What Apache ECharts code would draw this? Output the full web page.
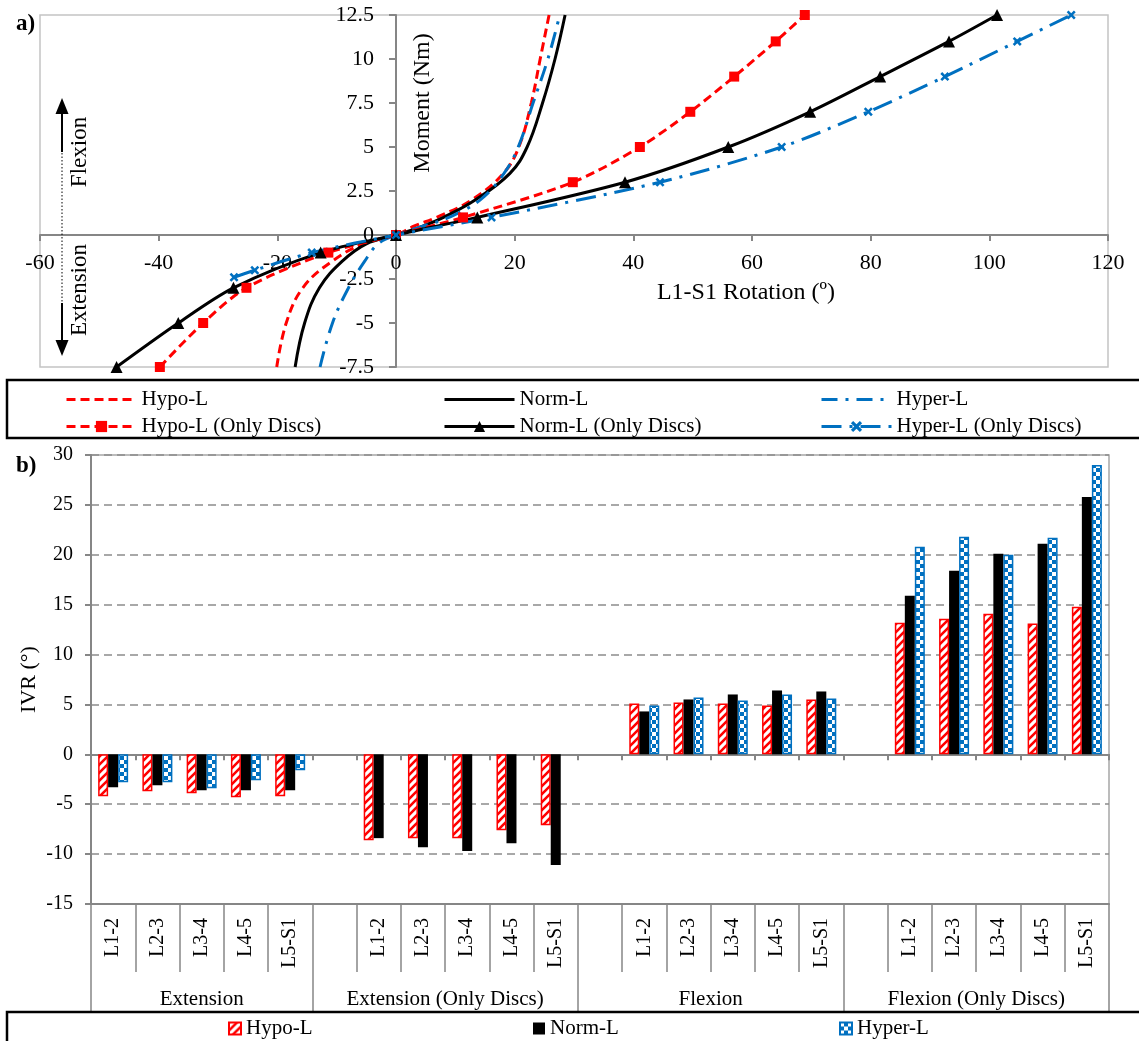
<!DOCTYPE html>
<html>
<head>
<meta charset="utf-8">
<script src="https://cdn.jsdelivr.net/npm/echarts@6/dist/echarts.min.js"></script>
<style>
  html, body { margin: 0; padding: 0; background: #ffffff; }
  #chart { width: 1139px; height: 1041px; }
</style>
</head>
<body>
<div id="chart"></div>
<script>
// ---------- Panel a: moment vs. L1-S1 rotation ----------
const momentFull = [-7.5, -5, -3, -1.5, -0.5, 0, 0.5, 1, 2, 3.5, 5, 7.5, 10, 12.5];
const rotHypo  = [-20.1, -18.5, -15.7, -10.8, -5.5, 0, 3.0, 6.8, 12.8, 18.1, 20.7, 22.8, 24.3, 25.8];
const rotNorm  = [-17.0, -15.4, -12.9, -9.1, -5.0, 0, 4.5, 8.0, 13.4, 19.2, 22.1, 24.7, 26.8, 28.5];
const rotHyper = [-12.8, -10.7, -8.0, -5.3, -3.0, 0, 4.5, 8.9, 14.2, 18.2, 20.6, 23.1, 25.6, 27.6];

const momentDiscs   = [-7.5, -5, -3, -1, 0, 1, 3, 5, 7, 9, 11, 12.5];
const rotHypoDiscs  = [-39.8, -32.5, -25.2, -11.4, 0, 11.3, 29.8, 41.1, 49.6, 57.0, 64.0, 68.9];
const rotNormDiscs  = [-47.1, -36.7, -27.4, -12.7, 0, 13.7, 38.6, 56.0, 69.8, 81.6, 93.2, 101.3];
const momentHyperDiscs = [-2.4, -2.0, -1.0, 0, 1, 3, 5, 7, 9, 11, 12.5];
const rotHyperDiscs    = [-27.3, -23.8, -14.2, 0, 16.1, 44.5, 65.0, 79.6, 92.5, 104.7, 113.8];

// Axis ranges of panel a
const rotMin = -60, rotMax = 120, rotStep = 20;
const momMin = -7.5, momMax = 12.5, momStep = 2.5;

// ---------- Panel b: intervertebral rotation per level ----------
const segments = ['L1-2', 'L2-3', 'L3-4', 'L4-5', 'L5-S1'];
const groups = ['Extension', 'Extension (Only Discs)', 'Flexion', 'Flexion (Only Discs)'];
const hypoIVR = [
  [-4.2, -3.7, -3.9, -4.3, -4.2],
  [-8.6, -8.4, -8.4, -7.6, -7.1],
  [5.1, 5.2, 5.1, 4.9, 5.5],
  [13.2, 13.6, 14.1, 13.1, 14.8]
];
const normIVR = [
  [-3.3, -3.1, -3.6, -3.6, -3.6],
  [-8.4, -9.3, -9.7, -8.9, -11.1],
  [4.3, 5.5, 6.0, 6.4, 6.3],
  [15.9, 18.4, 20.1, 21.1, 25.8]
];
const hyperIVR = [
  [-2.8, -2.8, -3.4, -2.6, -1.6],
  [null, null, null, null, null],
  [4.9, 5.7, 5.4, 6.0, 5.6],
  [20.8, 21.8, 20.0, 21.7, 29.0]
];

const FONT = 'Liberation Serif';
const RED = '#ff0000', BLUE = '#0070c0', BLACK = '#000000', AXIS = '#868686';

// Plot boxes
const gridA = { left: 40, top: 15, width: 1068, height: 352 };
const gridB = { left: 91, top: 455, width: 1018, height: 449 };

// Axes of panel a cross at the origin
const xAxisShiftA = -gridA.height * (0 - momMin) / (momMax - momMin);
const yAxisShiftA = -gridA.width * (0 - rotMin) / (rotMax - rotMin);

// Category slots: each group after the first opens with an empty slot
const cats = [], hypoBars = [], normBars = [], hyperBars = [];
const groupStart = [], groupEnd = [];
groups.forEach((g, gi) => {
  groupStart.push(cats.length);
  if (gi > 0) { cats.push(''); hypoBars.push(null); normBars.push(null); hyperBars.push(null); }
  segments.forEach((s, si) => {
    cats.push(s);
    hypoBars.push(hypoIVR[gi][si]);
    normBars.push(normIVR[gi][si]);
    hyperBars.push(hyperIVR[gi][si]);
  });
  groupEnd.push(cats.length);
});
// Half-slot axis carrying the group names and the long group separators
const groupCats = [];
for (let i = 0; i <= 2 * cats.length; i++) groupCats.push('');
const groupLabelIdx = new Set(), groupTickIdx = new Set();
groups.forEach((g, gi) => {
  const mid = groupStart[gi] + groupEnd[gi];
  groupCats[mid] = g;
  groupLabelIdx.add(mid);
  groupTickIdx.add(2 * groupStart[gi]);
  groupTickIdx.add(2 * groupEnd[gi]);
});

function pairs(xs, ys) { return xs.map((x, i) => [x, ys[i]]); }

// Fill patterns for the bars
function hatchPattern() {
  const c = document.createElement('canvas'); c.width = 8; c.height = 8;
  const g = c.getContext('2d');
  g.fillStyle = '#ffffff'; g.fillRect(0, 0, 8, 8);
  g.strokeStyle = RED; g.lineWidth = 2.6;
  g.beginPath();
  g.moveTo(-2, 10); g.lineTo(10, -2);
  g.moveTo(-2, 2); g.lineTo(2, -2);
  g.moveTo(6, 10); g.lineTo(10, 6);
  g.stroke();
  return c;
}
function checkerPattern() {
  const c = document.createElement('canvas'); c.width = 8; c.height = 8;
  const g = c.getContext('2d');
  g.fillStyle = BLUE; g.fillRect(0, 0, 8, 8);
  g.fillStyle = '#ffffff';
  g.fillRect(0, 0, 4, 4); g.fillRect(4, 4, 4, 4);
  return c;
}

const xSymbol = 'path://M0,2 L2,0 L5,3 L8,0 L10,2 L7,5 L10,8 L8,10 L5,7 L2,10 L0,8 L3,5 Z';

const tickText = { fontFamily: FONT, color: BLACK };

// Plain curves get a bare line in the legend (marker hidden)
const plainItem = name => ({ name: name, itemStyle: { opacity: 0 } });

const lineLegend = (names, left) => ({
  data: names, left: left, top: 384, orient: 'vertical',
  itemWidth: 70, itemHeight: 14, itemGap: 6, selectedMode: false,
  lineStyle: { width: 3 },
  textStyle: { fontFamily: FONT, fontSize: 21, color: BLACK }
});
const barLegend = (name, left) => ({
  data: [name], left: left, top: 1013, icon: 'rect',
  itemWidth: 12, itemHeight: 12, selectedMode: false,
  formatter: n => n.replace(' (IVR)', ''),
  textStyle: { fontFamily: FONT, fontSize: 21, color: BLACK }
});

const centered = { align: 'center', verticalAlign: 'middle', textAlign: 'center', textVerticalAlign: 'middle' };

const option = {
  animation: false,
  backgroundColor: '#ffffff',
  grid: [
    Object.assign({ containLabel: false, outerBoundsMode: 'none', show: true,
      borderColor: '#c4c4c4', borderWidth: 1.5, backgroundColor: 'transparent' }, gridA),
    Object.assign({ containLabel: false, outerBoundsMode: 'none', show: true,
      borderColor: '#a6a6a6', borderWidth: 1.5, backgroundColor: 'transparent' }, gridB)
  ],
  xAxis: [
    { type: 'value', gridIndex: 0, min: rotMin, max: rotMax, interval: rotStep,
      position: 'bottom', offset: xAxisShiftA,
      axisLine: { show: true, onZero: false, lineStyle: { color: AXIS, width: 2 } },
      axisTick: { show: true, length: 6, lineStyle: { color: AXIS, width: 2 } },
      axisLabel: Object.assign({ fontSize: 22, margin: 17 }, tickText),
      splitLine: { show: false } },
    { type: 'category', gridIndex: 1, data: cats, boundaryGap: true,
      axisLine: { show: true, onZero: true, lineStyle: { color: AXIS, width: 2 } },
      axisTick: { show: true, interval: 0, length: 6, lineStyle: { color: AXIS, width: 2 } },
      axisLabel: { show: false }, splitLine: { show: false } },
    { type: 'category', gridIndex: 1, data: cats, boundaryGap: true, position: 'bottom', offset: 0,
      axisLine: { show: true, onZero: false, lineStyle: { color: AXIS, width: 2 } },
      axisTick: { show: true, interval: 0, length: 68, lineStyle: { color: AXIS, width: 1.5 } },
      axisLabel: Object.assign({ interval: 0, rotate: 90, margin: 14, fontSize: 20 }, tickText),
      splitLine: { show: false } },
    { type: 'category', gridIndex: 1, data: groupCats, boundaryGap: false, position: 'bottom', offset: 0,
      axisLine: { show: false, onZero: false },
      axisTick: { show: true, interval: (i) => groupTickIdx.has(i), length: 107,
                  lineStyle: { color: AXIS, width: 1.5 } },
      axisLabel: Object.assign({ interval: (i) => groupLabelIdx.has(i), margin: 85, fontSize: 21 }, tickText),
      splitLine: { show: false } }
  ],
  yAxis: [
    { type: 'value', gridIndex: 0, min: momMin, max: momMax, interval: momStep,
      position: 'left', offset: yAxisShiftA,
      axisLine: { show: true, onZero: false, lineStyle: { color: AXIS, width: 2 } },
      axisTick: { show: true, length: 7, lineStyle: { color: AXIS, width: 2 } },
      axisLabel: Object.assign({ fontSize: 22, margin: 22 }, tickText),
      splitLine: { show: false } },
    { type: 'value', gridIndex: 1, min: -15, max: 30, interval: 5,
      name: 'IVR (°)', nameLocation: 'middle', nameGap: 51, nameMoveOverlap: false,
      nameTextStyle: { fontFamily: FONT, fontSize: 22, color: BLACK },
      axisLine: { show: true, lineStyle: { color: AXIS, width: 2 } },
      axisTick: { show: true, length: 6, lineStyle: { color: AXIS, width: 2 } },
      axisLabel: Object.assign({ fontSize: 20, margin: 18 }, tickText),
      splitLine: { show: true, lineStyle: { color: '#8c8c8c', width: 1.5, type: [8, 5] } } }
  ],
  legend: [
    lineLegend([plainItem('Hypo-L'), 'Hypo-L (Only Discs)'], 60),
    lineLegend([plainItem('Norm-L'), 'Norm-L (Only Discs)'], 438),
    lineLegend([plainItem('Hyper-L'), 'Hyper-L (Only Discs)'], 815),
    barLegend('Hypo-L (IVR)', 223),
    barLegend('Norm-L (IVR)', 528),
    barLegend('Hyper-L (IVR)', 834)
  ],
  series: [
    { name: 'Hypo-L', type: 'line', xAxisIndex: 0, yAxisIndex: 0, data: pairs(rotHypo, momentFull),
      smooth: 0.4, symbol: 'none', itemStyle: { color: RED },
      lineStyle: { color: RED, width: 3, type: [9, 5] } },
    { name: 'Norm-L', type: 'line', xAxisIndex: 0, yAxisIndex: 0, data: pairs(rotNorm, momentFull),
      smooth: 0.4, symbol: 'none', itemStyle: { color: BLACK },
      lineStyle: { color: BLACK, width: 3, type: 'solid' } },
    { name: 'Hyper-L', type: 'line', xAxisIndex: 0, yAxisIndex: 0, data: pairs(rotHyper, momentFull),
      smooth: 0.4, symbol: 'none', itemStyle: { color: BLUE },
      lineStyle: { color: BLUE, width: 3, type: [16, 8, 3, 8] } },
    { name: 'Hypo-L (Only Discs)', type: 'line', xAxisIndex: 0, yAxisIndex: 0,
      data: pairs(rotHypoDiscs, momentDiscs), smooth: 0.3,
      symbol: 'rect', symbolSize: 10, itemStyle: { color: RED },
      lineStyle: { color: RED, width: 3, type: [9, 5] } },
    { name: 'Norm-L (Only Discs)', type: 'line', xAxisIndex: 0, yAxisIndex: 0,
      data: pairs(rotNormDiscs, momentDiscs), smooth: 0.3,
      symbol: 'triangle', symbolSize: 12, itemStyle: { color: BLACK },
      lineStyle: { color: BLACK, width: 3, type: 'solid' } },
    { name: 'Hyper-L (Only Discs)', type: 'line', xAxisIndex: 0, yAxisIndex: 0,
      data: pairs(rotHyperDiscs, momentHyperDiscs), smooth: 0.3,
      symbol: xSymbol, symbolSize: 9, itemStyle: { color: BLUE },
      lineStyle: { color: BLUE, width: 3, type: [20, 8, 3, 8] } },

    { name: 'Hypo-L (IVR)', type: 'bar', xAxisIndex: 1, yAxisIndex: 1, data: hypoBars,
      barWidth: 10, barGap: '0%',
      itemStyle: { color: { image: hatchPattern(), repeat: 'repeat' }, borderColor: RED, borderWidth: 1.5 } },
    { name: 'Norm-L (IVR)', type: 'bar', xAxisIndex: 1, yAxisIndex: 1, data: normBars,
      barWidth: 10, barGap: '0%',
      itemStyle: { color: BLACK } },
    { name: 'Hyper-L (IVR)', type: 'bar', xAxisIndex: 1, yAxisIndex: 1, data: hyperBars,
      barWidth: 10, barGap: '0%',
      itemStyle: { color: { image: checkerPattern(), repeat: 'repeat' }, borderColor: BLUE, borderWidth: 1.5 } }
  ],
  graphic: [
    { type: 'text', left: 16, top: 13, z: 10,
      style: { text: 'a)', font: 'bold 23px "Liberation Serif"', fill: BLACK } },
    { type: 'text', left: 16, top: 455, z: 10,
      style: { text: 'b)', font: 'bold 23px "Liberation Serif"', fill: BLACK } },
    { type: 'text', x: 423, y: 103, rotation: Math.PI / 2, z: 10,
      style: Object.assign({ text: 'Moment (Nm)', font: '24px "Liberation Serif"', fill: BLACK }, centered) },
    { type: 'text', x: 746, y: 293, z: 10,
      style: Object.assign({ text: 'L1-S1 Rotation (º)', font: '24px "Liberation Serif"', fill: BLACK }, centered) },
    { type: 'text', x: 80, y: 152, rotation: Math.PI / 2, z: 10,
      style: Object.assign({ text: 'Flexion', font: '23px "Liberation Serif"', fill: BLACK }, centered) },
    { type: 'text', x: 80, y: 290, rotation: Math.PI / 2, z: 10,
      style: Object.assign({ text: 'Extension', font: '23px "Liberation Serif"', fill: BLACK }, centered) },
    { type: 'line', z: 10, shape: { x1: 62, y1: 152, x2: 62, y2: 112 }, style: { stroke: BLACK, lineWidth: 2 } },
    { type: 'polygon', z: 10, shape: { points: [[62, 98], [55.5, 114], [68.5, 114]] }, style: { fill: BLACK } },
    { type: 'line', z: 10, shape: { x1: 62, y1: 153, x2: 62, y2: 303 },
      style: { stroke: BLACK, lineWidth: 1, lineDash: [1.5, 2] } },
    { type: 'line', z: 10, shape: { x1: 62, y1: 303, x2: 62, y2: 342 }, style: { stroke: BLACK, lineWidth: 2 } },
    { type: 'polygon', z: 10, shape: { points: [[62, 356], [55.5, 340], [68.5, 340]] }, style: { fill: BLACK } },
    { type: 'rect', z: 10, shape: { x: 7, y: 380, width: 1150, height: 58 },
      style: { fill: 'none', stroke: BLACK, lineWidth: 2.5 } },
    { type: 'rect', z: 10, shape: { x: 7, y: 1012, width: 1150, height: 40 },
      style: { fill: 'none', stroke: BLACK, lineWidth: 2.5 } }
  ]
};

const chart = echarts.init(document.getElementById('chart'), null, { renderer: 'canvas' });
chart.setOption(option);
</script>
</body>
</html>
